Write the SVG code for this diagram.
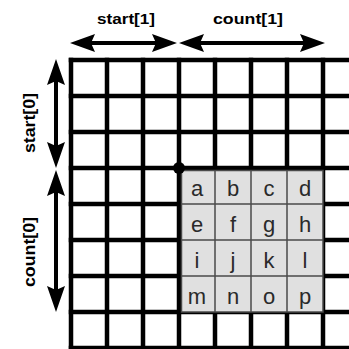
<svg xmlns="http://www.w3.org/2000/svg" width="349" height="349" viewBox="0 0 349 349">
<style>
.grid line{stroke:#000;stroke-width:4.5;stroke-linecap:square}
.shaft{stroke:#000;stroke-width:4;fill:none}
.head{fill:#000}
.lbl{font-family:"Liberation Sans",Arial,sans-serif;font-weight:bold;font-size:15px;fill:#000}
.vlbl{font-size:16px}
.cell text{font-family:"Liberation Sans",Arial,sans-serif;font-size:22px;fill:#2a2a2a;text-anchor:middle}
.thin{stroke:#4a4a4a;stroke-width:1.5}
</style>
<rect width="349" height="349" fill="#fff"/>
<g id="grid" class="grid">
<line x1="71" y1="60" x2="71" y2="349"/>
<line x1="107" y1="60" x2="107" y2="349"/>
<line x1="143" y1="60" x2="143" y2="349"/>
<line x1="179" y1="60" x2="179" y2="349"/>
<line x1="215" y1="60" x2="215" y2="349"/>
<line x1="251" y1="60" x2="251" y2="349"/>
<line x1="287" y1="60" x2="287" y2="349"/>
<line x1="323" y1="60" x2="323" y2="349"/>
<line x1="71" y1="60" x2="351" y2="60"/>
<line x1="71" y1="96" x2="351" y2="96"/>
<line x1="71" y1="132" x2="351" y2="132"/>
<line x1="71" y1="168" x2="351" y2="168"/>
<line x1="71" y1="204" x2="351" y2="204"/>
<line x1="71" y1="240" x2="351" y2="240"/>
<line x1="71" y1="276" x2="351" y2="276"/>
<line x1="71" y1="312" x2="351" y2="312"/>
<line x1="71" y1="348" x2="351" y2="348"/>
</g>
<g id="subarray">
<rect x="181.5" y="170.5" width="141.5" height="141.5" fill="#e0e0e0" stroke="#4a4a4a" stroke-width="1.5"/>
<line class="thin" x1="215" y1="170" x2="215" y2="312"/>
<line class="thin" x1="251" y1="170" x2="251" y2="312"/>
<line class="thin" x1="287" y1="170" x2="287" y2="312"/>
<line class="thin" x1="181" y1="204" x2="323" y2="204"/>
<line class="thin" x1="181" y1="240" x2="323" y2="240"/>
<line class="thin" x1="181" y1="276" x2="323" y2="276"/>
</g>
<g id="cell-a" class="cell"><text x="197" y="196">a</text></g>
<g id="cell-b" class="cell"><text x="233" y="196">b</text></g>
<g id="cell-c" class="cell"><text x="269" y="196">c</text></g>
<g id="cell-d" class="cell"><text x="305" y="196">d</text></g>
<g id="cell-e" class="cell"><text x="197" y="232">e</text></g>
<g id="cell-f" class="cell"><text x="233" y="232">f</text></g>
<g id="cell-g" class="cell"><text x="269" y="232">g</text></g>
<g id="cell-h" class="cell"><text x="305" y="232">h</text></g>
<g id="cell-i" class="cell"><text x="197" y="268">i</text></g>
<g id="cell-j" class="cell"><text x="233" y="268">j</text></g>
<g id="cell-k" class="cell"><text x="269" y="268">k</text></g>
<g id="cell-l" class="cell"><text x="305" y="268">l</text></g>
<g id="cell-m" class="cell"><text x="197" y="304">m</text></g>
<g id="cell-n" class="cell"><text x="233" y="304">n</text></g>
<g id="cell-o" class="cell"><text x="269" y="304">o</text></g>
<g id="cell-p" class="cell"><text x="305" y="304">p</text></g>
<g id="origin"><circle cx="179" cy="168" r="6" fill="#000"/></g>
<g id="connectors">
<line class="shaft" x1="85" y1="43" x2="165" y2="43"/>
<path class="head" d="M70,43 L95,34 L91,43 L95,52 Z"/>
<path class="head" d="M177,43 L152,34 L156,43 L152,52 Z"/>
<line class="shaft" x1="192" y1="43" x2="312" y2="43"/>
<path class="head" d="M179,43 L204,34 L200,43 L204,52 Z"/>
<path class="head" d="M325,43 L300,34 L304,43 L300,52 Z"/>
<line class="shaft" x1="56" y1="72" x2="56" y2="156"/>
<path class="head" d="M56,59 L65,85 L56,81 L47,85 Z"/>
<path class="head" d="M56,168 L65,142 L56,146 L47,142 Z"/>
<line class="shaft" x1="56" y1="182" x2="56" y2="300"/>
<path class="head" d="M56,170 L65,196 L56,192 L47,196 Z"/>
<path class="head" d="M56,312 L65,286 L56,290 L47,286 Z"/>
</g>
<g id="labels">
<text class="lbl" x="97" y="24" textLength="58" lengthAdjust="spacingAndGlyphs">start[1]</text>
<text class="lbl" x="213" y="24" textLength="70" lengthAdjust="spacingAndGlyphs">count[1]</text>
<text class="lbl vlbl" transform="translate(35,123) rotate(-90)" text-anchor="middle" textLength="60" lengthAdjust="spacingAndGlyphs">start[0]</text>
<text class="lbl vlbl" transform="translate(35,252) rotate(-90)" text-anchor="middle" textLength="70" lengthAdjust="spacingAndGlyphs">count[0]</text>
</g>
</svg>
